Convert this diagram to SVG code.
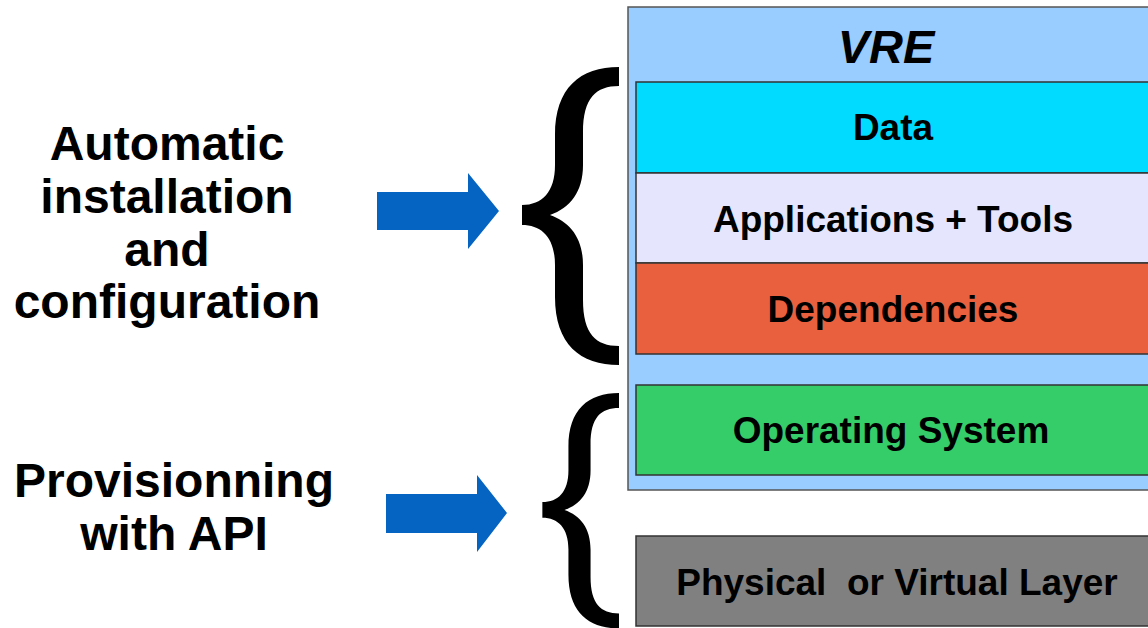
<svg xmlns="http://www.w3.org/2000/svg" xmlns:xlink="http://www.w3.org/1999/xlink" width="1148" height="628" viewBox="0 0 1148 628">
  <style>
    .label { font-family: "Liberation Sans", Arial, sans-serif; font-weight: bold; fill: #000; text-anchor: middle; }
    .side { font-size: 48px; }
    .layer-text { font-size: 37px; white-space: pre; }
    .title { font-size: 47px; font-style: italic; }
    .layer { stroke: #333; stroke-width: 1.5; }
    .arrow { fill: #0563c1; }
    .brace { fill: #000; }
  </style>
  <defs>
    <!-- curly brace spanning y 67..365, tip at x 522 -->
    <path id="brace-shape" d="M619,67 C580,67 555,88 555,135 L555,165 C555,192 542,205 522,205 L522,225 C542,225 555,238 555,265 L555,297 C555,344 580,365 619,365 L619,346 C596,346 583,334 583,300 L583,265 C583,238 570,222 550,215 C570,208 583,192 583,165 L583,132 C583,98 596,86 619,86 Z"/>
  </defs>

  <rect width="1148" height="628" fill="#fff"/>

  <!-- left-hand captions -->
  <g id="caption-automation">
    <text class="label side" x="167" y="160">Automatic</text>
    <text class="label side" x="167" y="213">installation</text>
    <text class="label side" x="167" y="266">and</text>
    <text class="label side" x="167" y="318">configuration</text>
  </g>
  <g id="caption-provisioning">
    <text class="label side" x="174" y="497">Provisionning</text>
    <text class="label side" x="174" y="550">with API</text>
  </g>

  <!-- VRE container and its layers -->
  <g id="vre">
    <rect x="628" y="7" width="530" height="483" fill="#99ccff" stroke="#555" stroke-width="1.5"/>
    <text class="label title" x="886" y="63">VRE</text>
  </g>
  <g id="layer-data">
    <rect class="layer" x="636" y="82" width="520" height="91" fill="#00dbff"/>
    <text class="label layer-text" x="893" y="140">Data</text>
  </g>
  <g id="layer-apps">
    <rect class="layer" x="636" y="173" width="520" height="90" fill="#e5e5fd"/>
    <text class="label layer-text" x="893" y="232">Applications + Tools</text>
  </g>
  <g id="layer-deps">
    <rect class="layer" x="636" y="263" width="520" height="91" fill="#e9603f"/>
    <text class="label layer-text" x="893" y="322">Dependencies</text>
  </g>
  <g id="layer-os">
    <rect class="layer" x="636" y="385" width="520" height="90" fill="#35cc6a"/>
    <text class="label layer-text" x="891" y="443">Operating System</text>
  </g>
  <g id="layer-physical">
    <rect class="layer" x="636" y="536" width="520" height="90" fill="#808080"/>
    <text class="label layer-text" x="897" y="595" xml:space="preserve">Physical  or Virtual Layer</text>
  </g>

  <!-- arrows and braces -->
  <g id="connectors">
    <polygon class="arrow" points="377,192 468,192 468,173 499,211 468,249 468,230 377,230"/>
    <polygon class="arrow" points="386,494 477,494 477,475 507,513 477,552 477,533 386,533"/>
    <use class="brace" xlink:href="#brace-shape"/>
    <use class="brace" xlink:href="#brace-shape" transform="translate(619,393) scale(0.79) translate(-619,-67)"/>
  </g>
</svg>
